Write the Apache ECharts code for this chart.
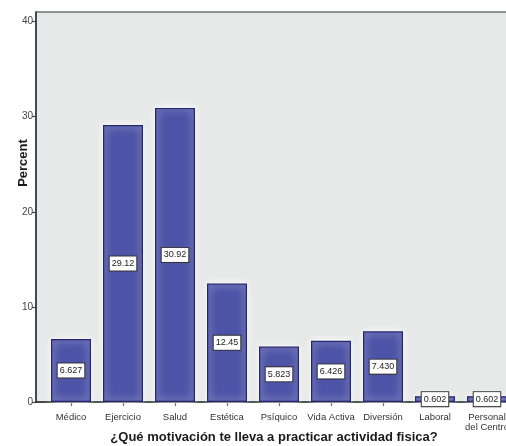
<!DOCTYPE html>
<html><head><meta charset="utf-8">
<script src="https://cdn.jsdelivr.net/npm/echarts@6/dist/echarts.min.js"></script>
<style>html,body{margin:0;padding:0;background:#fff;overflow:hidden;width:506px;height:446px}#c{width:506px;height:446px;overflow:hidden}</style>
</head><body><div id="c"></div>
<script>
var categories = ['Médico','Ejercicio','Salud','Estética','Psíquico','Vida Activa','Diversión','Laboral','Personal\ndel Centro'];
var percentValues = [6.627, 29.12, 30.92, 12.45, 5.823, 6.426, 7.430, 0.602, 0.602];
var yTicks = [0, 10, 20, 30, 40];
var xTitle = '¿Qué motivación te lleva a practicar actividad fisica?';
var yTitle = 'Percent';

var FONT = '"Liberation Sans", Arial, sans-serif';
var chart = echarts.init(document.getElementById('c'), null, {renderer: 'canvas', width: 506, height: 446});
var yMax = 41;
chart.setOption({
  animation: false,
  backgroundColor: '#ffffff',
  grid: [
    {left: 36, width: 486, top: 12, height: 390, containLabel: false, outerBoundsMode: 'none',
     show: true, backgroundColor: '#e7e9e9', borderColor: '#6f7475', borderWidth: 1.5},
    {left: 45, width: 468, top: 12, height: 390, containLabel: false, outerBoundsMode: 'none'}
  ],
  xAxis: [
    {type: 'category', gridIndex: 0, data: ['a'], axisLine: {show: true, lineStyle: {color: '#2b2f33', width: 1.5}},
     axisTick: {show: false}, axisLabel: {show: false}, splitLine: {show: false},
     name: xTitle, nameLocation: 'middle', nameGap: 29,
     nameTextStyle: {fontFamily: FONT, fontWeight: 'bold', fontSize: 13, color: '#1a1a1a', padding: [0, 10, 0, 0]}},
    {type: 'category', gridIndex: 1, data: categories, axisLine: {show: false},
     axisTick: {show: true, alignWithLabel: true, length: 4, lineStyle: {color: '#444', width: 1.2}},
     axisLabel: {fontFamily: FONT, fontSize: 9.5, color: '#333', margin: 10, interval: 0, lineHeight: 10}}
  ],
  yAxis: [
    {type: 'value', gridIndex: 0, min: 0, max: yMax, interval: 10,
     axisLine: {show: true, lineStyle: {color: '#2b2f33', width: 1.5}},
     axisTick: {show: true, length: 4, lineStyle: {color: '#444', width: 1.2}},
     axisLabel: {fontFamily: FONT, fontSize: 10, color: '#444', margin: 3, showMaxLabel: false,
       formatter: function (v) { return yTicks.indexOf(v) >= 0 ? String(v) : ''; }},
     splitLine: {show: false}},
    {type: 'value', gridIndex: 1, min: 0, max: yMax, show: false, splitLine: {show: false}}
  ],
  graphic: [
    {type: 'text', x: 23, y: 163, rotation: Math.PI / 2,
     style: {text: yTitle, fontFamily: FONT, fontWeight: 'bold', fontSize: 13, fill: '#1a1a1a', align: 'center', verticalAlign: 'middle'}}
  ],
  series: [{
    type: 'bar', xAxisIndex: 1, yAxisIndex: 1, data: percentValues, barWidth: 40,
    itemStyle: {color: '#4d53a6', borderColor: '#25276e', borderWidth: 1.2,
      shadowColor: '#ffffff', shadowBlur: 8},
    label: {show: true, position: 'inside', fontFamily: FONT, fontSize: 9, color: '#222',
      backgroundColor: '#ffffff', borderColor: '#333', borderWidth: 1, padding: [3, 2, 2, 2],
      formatter: function (p) { return p.value >= 10 ? p.value.toFixed(2) : p.value.toFixed(3); }}
  }]
});
</script></body></html>
